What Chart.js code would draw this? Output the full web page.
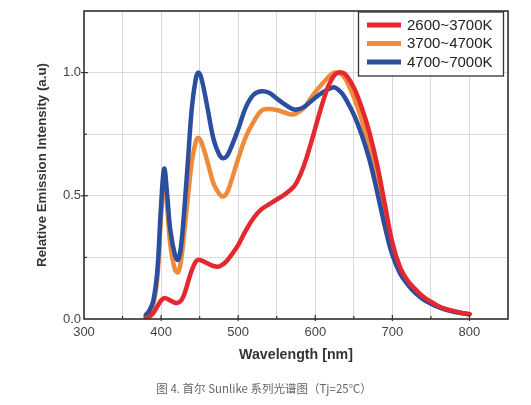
<!DOCTYPE html>
<html>
<head>
<meta charset="utf-8">
<script src="https://cdn.jsdelivr.net/npm/chart.js@4"></script>
<style>
html,body{margin:0;padding:0;background:#fff;}
#wrap{position:relative;width:531px;height:405px;}
</style>
</head>
<body>
<div id="wrap"><canvas id="c" width="531" height="405"></canvas></div>
<script>
const wavelengths = [380,385,390,395,400,404,408,412,418,422,426,430,435,440,445,448,452,460,468,475,480,485,490,500,510,520,530,540,550,560,570,576,585,595,605,615,620,625,630,635,640,650,660,670,680,690,700,710,720,730,740,750,760,770,780,790,800];
const warm = [0.003,0.01,0.025,0.05,0.075,0.085,0.082,0.075,0.066,0.066,0.075,0.1,0.15,0.2,0.233,0.24,0.238,0.226,0.215,0.213,0.222,0.235,0.255,0.30,0.36,0.41,0.445,0.465,0.485,0.505,0.53,0.555,0.62,0.72,0.83,0.93,0.965,0.99,1.0,1.0,0.99,0.94,0.86,0.76,0.63,0.47,0.31,0.21,0.155,0.12,0.09,0.07,0.052,0.04,0.032,0.025,0.02];
const neutral = [0.006,0.02,0.06,0.16,0.42,0.57,0.45,0.3,0.2,0.19,0.24,0.35,0.5,0.64,0.72,0.735,0.72,0.64,0.55,0.51,0.497,0.51,0.55,0.65,0.74,0.8,0.845,0.852,0.848,0.838,0.83,0.835,0.855,0.9,0.94,0.975,0.99,1.0,1.0,0.99,0.97,0.9,0.81,0.7,0.57,0.43,0.29,0.2,0.148,0.113,0.086,0.067,0.05,0.039,0.031,0.024,0.02];
const cool = [0.016,0.035,0.075,0.19,0.46,0.61,0.5,0.36,0.26,0.24,0.3,0.44,0.65,0.86,0.975,1.0,0.98,0.86,0.73,0.67,0.653,0.66,0.69,0.77,0.86,0.91,0.924,0.918,0.895,0.872,0.853,0.85,0.86,0.885,0.91,0.93,0.937,0.94,0.93,0.915,0.89,0.83,0.75,0.65,0.52,0.38,0.26,0.185,0.14,0.105,0.08,0.062,0.048,0.037,0.029,0.023,0.019];
const seriesLabels = ['2600~3700K','3700~4700K','4700~7000K'];
const xTickLabels = [300,400,500,600,700,800];
const yTickLabels = ['0.0','0.5','1.0'];
const caption = '图 4. 首尔 Sunlike 系列光谱图（Tj=25℃）';

const colors = ['#e3282f','#ef8a3a','#2b4f9e'];
function pts(vals){ return wavelengths.map((w,i)=>({x:w,y:vals[i]})); }

const extras = {
  id:'extras',
  afterDraw(chart){
    const ctx = chart.ctx;
    const a = chart.chartArea;
    const xs = chart.scales.x, ys = chart.scales.y;
    ctx.save();
    ctx.strokeStyle = '#333'; ctx.lineWidth = 1.2;
    xs.ticks.forEach(t=>{
      if (t.value<=300 || t.value>=850) return;
      const px = xs.getPixelForValue(t.value);
      const major = t.value % 100 === 0;
      ctx.beginPath();
      ctx.moveTo(px, a.bottom + (major?2:0));
      ctx.lineTo(px, a.bottom - (major?4:3));
      ctx.stroke();
    });
    ys.ticks.forEach(t=>{
      if (t.value<=0 || t.value>=1.25) return;
      const py = ys.getPixelForValue(t.value);
      const major = Math.abs((t.value*2) - Math.round(t.value*2))<1e-6;
      ctx.beginPath();
      ctx.moveTo(a.left - (major?3:0), py);
      ctx.lineTo(a.left + (major?4:3), py);
      ctx.stroke();
    });
    ctx.strokeStyle = '#333'; ctx.lineWidth = 1.6;
    ctx.strokeRect(a.left, a.top, a.right-a.left, a.bottom-a.top);
    const lx = 358.5, ly = 12, lw = 145, lh = 64;
    ctx.fillStyle = '#fff';
    ctx.fillRect(lx, ly, lw, lh);
    ctx.strokeStyle = '#333'; ctx.lineWidth = 1.3;
    ctx.strokeRect(lx, ly, lw, lh);
    const rows = [25, 43.5, 62];
    chart.data.datasets.forEach((ds,i)=>{
      ctx.strokeStyle = ds.borderColor; ctx.lineWidth = 5; ctx.lineCap = 'butt';
      ctx.beginPath(); ctx.moveTo(367, rows[i]); ctx.lineTo(401, rows[i]); ctx.stroke();
      ctx.fillStyle = '#222';
      ctx.font = '15px "Liberation Sans", Arial, sans-serif';
      ctx.textBaseline = 'middle'; ctx.textAlign = 'left';
      ctx.fillText(ds.label, 407, rows[i]+0.5);
    });
    ctx.fillStyle = '#666';
    ctx.font = '11.5px "Noto Sans CJK SC", sans-serif';
    ctx.textAlign = 'center'; ctx.textBaseline = 'middle';
    ctx.fillText(caption, 264, 389);
    ctx.restore();
  }
};

new Chart(document.getElementById('c'), {
  type:'line',
  data:{
    datasets:[
      {label:seriesLabels[0], data:pts(warm), borderColor:colors[0], order:0},
      {label:seriesLabels[1], data:pts(neutral), borderColor:colors[1], order:2},
      {label:seriesLabels[2], data:pts(cool), borderColor:colors[2], order:1}
    ]
  },
  options:{
    responsive:false,
    animation:false,
    devicePixelRatio:1,
    layout:{padding:{left:34.5, right:23, top:11, bottom:41.5}},
    elements:{
      line:{borderWidth:4.5, tension:0.4, fill:false, borderCapStyle:'round', borderJoinStyle:'round'},
      point:{radius:0, hoverRadius:0}
    },
    plugins:{legend:{display:false}, tooltip:{enabled:false}},
    scales:{
      x:{
        type:'linear', min:300, max:850,
        afterFit(s){ s.height = 44.5; },
        grid:{color:'#d9d9d9', lineWidth:1, drawTicks:false},
        border:{display:false},
        ticks:{stepSize:50, padding:6, maxRotation:0, autoSkip:false,
          color:'#444', font:{family:'"Liberation Sans", Arial, sans-serif', size:13},
          callback:(v)=> xTickLabels.includes(v) ? String(v) : ''},
        title:{display:true, text:'Wavelength [nm]', color:'#333', padding:0,
          font:{family:'"Liberation Sans", Arial, sans-serif', size:14.2, weight:'bold'}}
      },
      y:{
        type:'linear', min:0, max:1.25,
        afterFit(s){ s.width = 49.5; },
        grid:{color:'#d9d9d9', lineWidth:1, drawTicks:false},
        border:{display:false},
        ticks:{stepSize:0.25, padding:3, autoSkip:false,
          color:'#444', font:{family:'"Liberation Sans", Arial, sans-serif', size:13},
          callback:(v)=>{ const k = Math.round(v*2); return (Math.abs(v*2-k)<1e-6 && k<=2) ? yTickLabels[k] : ''; }},
        title:{display:true, text:'Relative Emission Intensity (a.u)', color:'#333', padding:0,
          font:{family:'"Liberation Sans", Arial, sans-serif', size:13.3, weight:'bold'}}
      }
    }
  },
  plugins:[extras]
});
</script>
</body>
</html>
